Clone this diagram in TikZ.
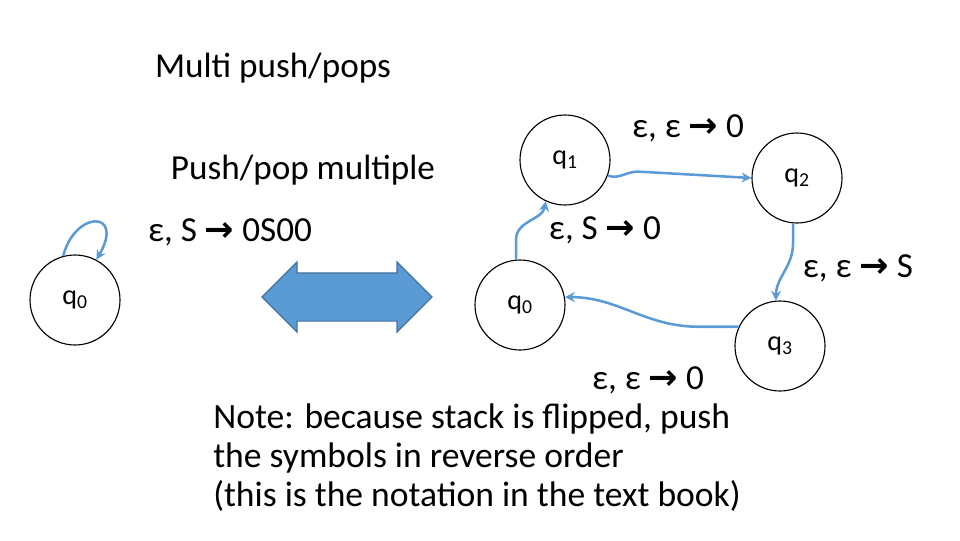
\documentclass[tikz,border=0pt]{standalone}
\usepackage{fontspec}
\setmainfont{Carlito}
\newfontfamily\arrowfont{DejaVu Sans}
\usetikzlibrary{shapes.arrows,arrows.meta}
\definecolor{edgeblue}{HTML}{5B9BD5}
\definecolor{darkblue}{HTML}{41719C}
\newcommand{\ar}{{\arrowfont\textbf{→}}}
\begin{document}
\begin{tikzpicture}[x=0.025cm,y=-0.025cm]
\tikzset{state/.style={draw,thick,circle,minimum size=90*0.025cm,inner sep=0pt,font=\fontsize{20}{24}\selectfont},
         lbl/.style={font=\fontsize{25}{30}\selectfont,inner sep=0pt},
         trans/.style={edgeblue,line width=1.8pt,-{Stealth[length=7pt,width=7pt]}}}
\useasboundingbox (0,0) rectangle (960,540);
\node[lbl] (title) at (273,68) {Multi push/pops};
\node[lbl] (sub) at (303,170) {Push/pop multiple};
\node[lbl] (loop) at (230,232) {ε, S \ar{} 0S00};
% left machine
\node[state] (L0) at (75,300) {q\textsubscript{0}};
\draw[trans] (L0.105) .. controls (75,210) and (125,210) .. (L0.62);
% equivalence arrow
\node[double arrow,draw=darkblue,fill=edgeblue,thick,minimum height=170*0.025cm,
      minimum width=70*0.025cm,double arrow head extend=0.12cm,inner sep=0.25cm] (eq) at (347,297) {};
% right machine
\node[state] (q1) at (565,160) {q\textsubscript{1}};
\node[state] (q2) at (797,178) {q\textsubscript{2}};
\node[state] (q0) at (520,305) {q\textsubscript{0}};
\node[state] (q3) at (780,346) {q\textsubscript{3}};
\draw[trans] (q0.95) -- ++(0,-20) to[out=90,in=-100] (q1.-115);
\draw[trans] (q1.-20) to[out=-20,in=180] ++(30,-4) -- (q2.180);
\draw[trans] (q2.-95) -- ++(0,20) to[out=-90,in=90] (q3.95);
\draw[trans] (q3.155) -- ++(-40,0) to[out=180,in=0] (q0.10);
\node[lbl] (l01) at (605,230) {ε, S \ar{} 0};
\node[lbl] (l12) at (688,128) {ε, ε \ar{} 0};
\node[lbl] (l23) at (858,268) {ε, ε \ar{} S};
\node[lbl] (l30) at (648,380) {ε, ε \ar{} 0};
\node[lbl,anchor=north west,align=left,font=\fontsize{25.3}{27.5}\selectfont] (note) at (213,404)
  {Note: because stack is flipped, push\\the symbols in reverse order\\(this is the notation in the text book)};
\end{tikzpicture}
\end{document}
